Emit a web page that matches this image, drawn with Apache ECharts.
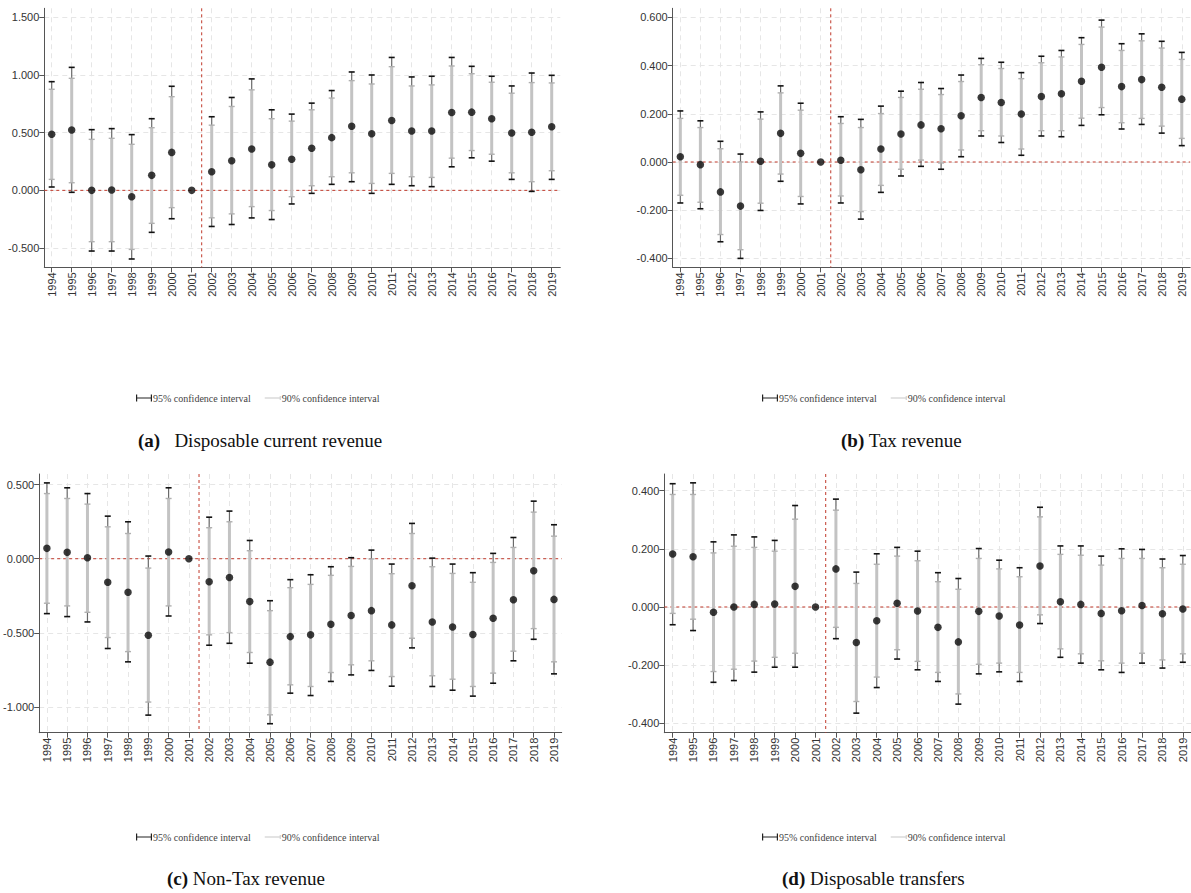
<!DOCTYPE html>
<html>
<head>
<meta charset="utf-8">
<script src="https://cdn.jsdelivr.net/npm/echarts@6/dist/echarts.min.js"></script>
<style>
  html, body { margin: 0; padding: 0; background: #ffffff; }
  #chart { width: 1191px; height: 893px; }
</style>
</head>
<body>
<div id="chart"></div>
<script>
// Event-study years
const years = [1994, 1995, 1996, 1997, 1998, 1999, 2000, 2001, 2002, 2003, 2004, 2005, 2006,
               2007, 2008, 2009, 2010, 2011, 2012, 2013, 2014, 2015, 2016, 2017, 2018, 2019];
// Reference year 2001 has no interval; the reform break sits between 2001 and 2002
const breakYear = 2001.5;

// (a) Disposable current revenue
const dcrCoef = [0.486, 0.523, 0.000, 0.003, -0.055, 0.130, 0.329, 0.000, 0.161, 0.256, 0.359, 0.221, 0.270,
                 0.365, 0.457, 0.555, 0.491, 0.606, 0.514, 0.514, 0.675, 0.678, 0.621, 0.497, 0.503, 0.552];
const dcrHi95 = [0.942, 1.066, 0.526, 0.535, 0.483, 0.621, 0.902, null, 0.638, 0.805, 0.966, 0.698, 0.661,
                 0.756, 0.865, 1.026, 1.000, 1.152, 0.983, 0.989, 1.152, 1.075, 0.989, 0.905, 1.017, 0.997];
const dcrLo95 = [0.029, -0.017, -0.526, -0.526, -0.595, -0.364, -0.246, null, -0.313, -0.296, -0.239, -0.253, -0.118,
                 -0.026, 0.052, 0.075, -0.026, 0.052, 0.040, 0.032, 0.204, 0.282, 0.253, 0.095, -0.009, 0.095];
const dcrHi90 = [0.876, 0.971, 0.442, 0.451, 0.399, 0.543, 0.812, null, 0.565, 0.727, 0.871, 0.621, 0.600,
                 0.698, 0.800, 0.951, 0.922, 1.072, 0.905, 0.914, 1.078, 1.011, 0.937, 0.842, 0.934, 0.931];
const dcrLo90 = [0.095, 0.066, -0.445, -0.445, -0.512, -0.286, -0.150, null, -0.238, -0.204, -0.141, -0.175, -0.055,
                 0.040, 0.118, 0.152, 0.060, 0.147, 0.118, 0.112, 0.279, 0.345, 0.313, 0.152, 0.075, 0.170];

// (b) Tax revenue
const taxCoef = [0.022, -0.011, -0.124, -0.183, 0.003, 0.119, 0.036, 0.000, 0.007, -0.032, 0.054, 0.116, 0.154,
                 0.138, 0.192, 0.268, 0.247, 0.199, 0.272, 0.283, 0.335, 0.393, 0.313, 0.342, 0.310, 0.261];
const taxHi95 = [0.212, 0.171, 0.086, 0.033, 0.208, 0.316, 0.244, null, 0.188, 0.177, 0.232, 0.294, 0.330,
                 0.305, 0.361, 0.430, 0.414, 0.371, 0.439, 0.463, 0.516, 0.589, 0.491, 0.532, 0.501, 0.455];
const taxLo95 = [-0.170, -0.194, -0.331, -0.400, -0.201, -0.080, -0.174, null, -0.170, -0.237, -0.126, -0.058, -0.018,
                 -0.030, 0.022, 0.108, 0.081, 0.028, 0.108, 0.105, 0.152, 0.196, 0.137, 0.156, 0.120, 0.068];
const taxHi90 = [0.181, 0.143, 0.055, 0.000, 0.178, 0.287, 0.215, null, 0.160, 0.143, 0.201, 0.268, 0.302,
                 0.280, 0.334, 0.404, 0.388, 0.346, 0.412, 0.436, 0.488, 0.560, 0.463, 0.503, 0.473, 0.426];
const taxLo90 = [-0.138, -0.167, -0.301, -0.364, -0.171, -0.050, -0.143, null, -0.141, -0.206, -0.097, -0.030, 0.008,
                 -0.004, 0.050, 0.130, 0.108, 0.054, 0.130, 0.130, 0.182, 0.226, 0.163, 0.181, 0.149, 0.098];

// (c) Non-Tax revenue
const ntrCoef = [0.070, 0.043, 0.007, -0.159, -0.226, -0.516, 0.045, 0.000, -0.155, -0.126, -0.289, -0.697, -0.525,
                 -0.513, -0.442, -0.383, -0.350, -0.446, -0.182, -0.426, -0.460, -0.511, -0.401, -0.276, -0.081, -0.274];
const ntrHi95 = [0.511, 0.478, 0.439, 0.287, 0.249, 0.018, 0.478, null, 0.280, 0.321, 0.123, -0.283, -0.141,
                 -0.108, -0.054, 0.007, 0.058, -0.036, 0.238, 0.004, -0.036, -0.094, 0.036, 0.143, 0.388, 0.229];
const ntrLo95 = [-0.370, -0.390, -0.426, -0.605, -0.695, -1.054, -0.386, null, -0.583, -0.570, -0.704, -1.112, -0.906,
                 -0.922, -0.827, -0.783, -0.753, -0.859, -0.601, -0.861, -0.886, -0.926, -0.839, -0.688, -0.543, -0.776];
const ntrHi90 = [0.439, 0.406, 0.368, 0.215, 0.170, -0.063, 0.406, null, 0.209, 0.249, 0.054, -0.350, -0.195,
                 -0.173, -0.112, -0.052, -0.002, -0.101, 0.170, -0.054, -0.099, -0.159, -0.025, 0.076, 0.314, 0.152];
const ntrLo90 = [-0.300, -0.318, -0.361, -0.531, -0.626, -0.966, -0.318, null, -0.513, -0.498, -0.632, -1.052, -0.850,
                 -0.861, -0.767, -0.715, -0.688, -0.794, -0.536, -0.789, -0.812, -0.861, -0.771, -0.623, -0.471, -0.695];

// (d) Disposable transfers
const dtrCoef = [0.182, 0.173, -0.018, 0.000, 0.009, 0.010, 0.071, 0.000, 0.131, -0.122, -0.047, 0.013, -0.014,
                 -0.070, -0.120, -0.015, -0.031, -0.062, 0.141, 0.018, 0.009, -0.022, -0.013, 0.005, -0.023, -0.007];
const dtrHi95 = [0.424, 0.427, 0.224, 0.248, 0.241, 0.229, 0.349, null, 0.371, 0.120, 0.183, 0.205, 0.192,
                 0.118, 0.098, 0.201, 0.161, 0.135, 0.343, 0.210, 0.210, 0.175, 0.200, 0.198, 0.165, 0.177];
const dtrLo95 = [-0.061, -0.081, -0.259, -0.253, -0.224, -0.207, -0.207, null, -0.109, -0.365, -0.277, -0.179, -0.216,
                 -0.256, -0.334, -0.230, -0.223, -0.256, -0.057, -0.173, -0.193, -0.216, -0.225, -0.193, -0.210, -0.190];
const dtrHi90 = [0.387, 0.387, 0.186, 0.209, 0.205, 0.192, 0.302, null, 0.333, 0.081, 0.147, 0.175, 0.159,
                 0.087, 0.061, 0.167, 0.131, 0.104, 0.310, 0.181, 0.178, 0.144, 0.167, 0.167, 0.135, 0.147];
const dtrLo90 = [-0.022, -0.042, -0.222, -0.214, -0.186, -0.173, -0.159, null, -0.070, -0.325, -0.241, -0.147, -0.187,
                 -0.225, -0.299, -0.197, -0.193, -0.225, -0.027, -0.144, -0.161, -0.185, -0.193, -0.159, -0.182, -0.161];

// y-axis tick values of each panel
const ticksA = [-0.5, 0, 0.5, 1, 1.5];
const ticksB = [-0.4, -0.2, 0, 0.2, 0.4, 0.6];
const ticksC = [-1, -0.5, 0, 0.5];
const ticksD = [-0.4, -0.2, 0, 0.2, 0.4];

const legend95 = '95% confidence interval';
const legend90 = '90% confidence interval';

const panels = [
  { caption: '(a)', title: 'Disposable current revenue', coef: dcrCoef, lo95: dcrLo95, hi95: dcrHi95, lo90: dcrLo90, hi90: dcrHi90, ticks: ticksA,
    grid: { left: 44.3, top: 8.3, width: 516, height: 259 }, xr: [1993.63, 2019.43], yr: [-0.667, 1.578],
    legendPos: { left: 131, top: 388 }, titlePos: { left: 133, top: 426 }, gap: '   ' },
  { caption: '(b)', title: 'Tax revenue', coef: taxCoef, lo95: taxLo95, hi95: taxHi95, lo90: taxLo90, hi90: taxHi90, ticks: ticksB,
    grid: { left: 672.7, top: 8.3, width: 517.5, height: 259 }, xr: [1993.62, 2019.42], yr: [-0.437, 0.638],
    legendPos: { left: 757, top: 388 }, titlePos: { left: 836, top: 426 }, gap: ' ' },
  { caption: '(c)', title: 'Non-Tax revenue', coef: ntrCoef, lo95: ntrLo95, hi95: ntrHi95, lo90: ntrLo90, hi90: ntrHi90, ticks: ticksC,
    grid: { left: 38.3, top: 474, width: 523.4, height: 258.7 }, xr: [1993.62, 2019.38], yr: [-1.1725, 0.571],
    legendPos: { left: 131, top: 827 }, titlePos: { left: 162, top: 864 }, gap: ' ' },
  { caption: '(d)', title: 'Disposable transfers', coef: dtrCoef, lo95: dtrLo95, hi95: dtrHi95, lo90: dtrLo90, hi90: dtrHi90, ticks: ticksD,
    grid: { left: 664.3, top: 474, width: 529.6, height: 258.7 }, xr: [1993.59, 2019.4], yr: [-0.4323, 0.4574],
    legendPos: { left: 757, top: 827 }, titlePos: { left: 777, top: 864 }, gap: ' ' }
];

const axisColor = '#555555';
const labelColor = '#333333';
const refRed = '#c0392b';
const gridLine = { show: true, lineStyle: { color: '#e6e6e6', width: 1, type: [5, 4] } };

// Vertical interval with end caps, positioned through the axis scales
function intervalRenderer(lineColor, lineWidth, capColor, capWidth, capHalf) {
  return function (params, api) {
    const x = api.value(0);
    const pLo = api.coord([x, api.value(1)]);
    const pHi = api.coord([x, api.value(2)]);
    return {
      type: 'group',
      children: [
        { type: 'line', shape: { x1: pLo[0], y1: pLo[1], x2: pHi[0], y2: pHi[1] },
          style: { stroke: lineColor, lineWidth: lineWidth } },
        { type: 'line', shape: { x1: pLo[0] - capHalf, y1: pLo[1], x2: pLo[0] + capHalf, y2: pLo[1] },
          style: { stroke: capColor, lineWidth: capWidth } },
        { type: 'line', shape: { x1: pHi[0] - capHalf, y1: pHi[1], x2: pHi[0] + capHalf, y2: pHi[1] },
          style: { stroke: capColor, lineWidth: capWidth } }
      ]
    };
  };
}

// Zero line and reform-break line spanning the whole plot area
function referenceRenderer(params, api) {
  const p = api.coord([api.value(0), api.value(1)]);
  const cs = params.coordSys;
  const st = { stroke: refRed, lineWidth: 1, lineDash: [3, 3], fill: null };
  return {
    type: 'group',
    children: [
      { type: 'line', shape: { x1: cs.x, y1: p[1], x2: cs.x + cs.width, y2: p[1] }, style: st },
      { type: 'line', shape: { x1: p[0], y1: cs.y, x2: p[0], y2: cs.y + cs.height }, style: st }
    ]
  };
}

function intervalData(lo, hi) {
  const out = [];
  years.forEach(function (y, i) {
    if (lo[i] !== null && hi[i] !== null) out.push([y, lo[i], hi[i]]);
  });
  return out;
}

const option = {
  animation: false,
  backgroundColor: '#ffffff',
  grid: [], xAxis: [], yAxis: [], series: [], legend: [], title: []
};

panels.forEach(function (p, k) {
  option.grid.push(Object.assign({ containLabel: false }, p.grid));
  option.xAxis.push({
    type: 'value', gridIndex: k, min: p.xr[0], max: p.xr[1],
    axisLine: { show: true, onZero: false, lineStyle: { color: axisColor, width: 1 } },
    axisTick: { show: true, customValues: years, length: 5, lineStyle: { color: axisColor } },
    axisLabel: { customValues: years, rotate: 90, fontSize: 11, color: labelColor, margin: 5,
                 fontFamily: 'Liberation Sans, Arial, sans-serif',
                 formatter: function (v) { return String(Math.round(v)); } },
    splitLine: gridLine
  });
  option.yAxis.push({
    type: 'value', gridIndex: k, min: p.yr[0], max: p.yr[1],
    axisLine: { show: true, onZero: false, lineStyle: { color: axisColor, width: 1 } },
    axisTick: { show: true, customValues: p.ticks, length: 5, lineStyle: { color: axisColor } },
    axisLabel: { customValues: p.ticks, fontSize: 11, color: labelColor, margin: 5,
                 fontFamily: 'Liberation Sans, Arial, sans-serif',
                 formatter: function (v) { return Number(v).toFixed(3); } },
    splitLine: gridLine
  });
  // Reference lines: y = 0 and the break between 2001 and 2002
  option.series.push({
    name: 'reference', type: 'custom', xAxisIndex: k, yAxisIndex: k, z: 1, silent: true,
    renderItem: referenceRenderer, data: [[breakYear, 0]], itemStyle: { color: refRed }
  });
  // 95% interval: thin dark stem with black caps
  option.series.push({
    name: legend95, type: 'custom', xAxisIndex: k, yAxisIndex: k, z: 2,
    renderItem: intervalRenderer('#6a6a6a', 1.2, '#111111', 1.6, 3),
    data: intervalData(p.lo95, p.hi95), itemStyle: { color: '#222222' }
  });
  // 90% interval: thick light grey bar with grey caps
  option.series.push({
    name: legend90, type: 'custom', xAxisIndex: k, yAxisIndex: k, z: 3,
    renderItem: intervalRenderer('#c3c3c3', 3, '#b0b0b0', 1.4, 3),
    data: intervalData(p.lo90, p.hi90), itemStyle: { color: '#c3c3c3' }
  });
  // Point estimates
  option.series.push({
    name: 'Coefficient', type: 'scatter', xAxisIndex: k, yAxisIndex: k, z: 5,
    symbol: 'circle', symbolSize: 7.5, itemStyle: { color: '#0a0a0a' },
    data: years.map(function (y, i) { return [y, p.coef[i]]; })
  });
  option.legend.push({
    left: p.legendPos.left, top: p.legendPos.top, orient: 'horizontal',
    itemWidth: 16, itemHeight: 7, itemGap: 14, selectedMode: false,
    textStyle: { fontFamily: 'Liberation Serif, Times New Roman, serif', fontSize: 10, color: '#444444', padding: [0, 0, 0, -4] },
    data: [
      { name: legend95, icon: 'path://M0,0 h1.2 v7 h-1.2z M0,3.1 h16 v0.9 h-16z M14.8,0 h1.2 v7 h-1.2z',
        itemStyle: { color: '#222222' } },
      { name: legend90, icon: 'path://M0,3.1 h16 v0.9 h-16z M15,1.5 h1 v4 h-1z', itemStyle: { color: '#c8c8c8' } }
    ]
  });
  option.title.push({
    left: p.titlePos.left, top: p.titlePos.top,
    text: '{b|' + p.caption + '}' + p.gap + p.title,
    textStyle: {
      fontFamily: 'Liberation Serif, Times New Roman, serif', fontSize: 19, fontWeight: 'normal', color: '#111111',
      rich: { b: { fontFamily: 'Liberation Serif, Times New Roman, serif', fontSize: 19, fontWeight: 'bold', color: '#111111' } }
    }
  });
});

const chart = echarts.init(document.getElementById('chart'), null, { renderer: 'svg' });
chart.setOption(option);
</script>
</body>
</html>
